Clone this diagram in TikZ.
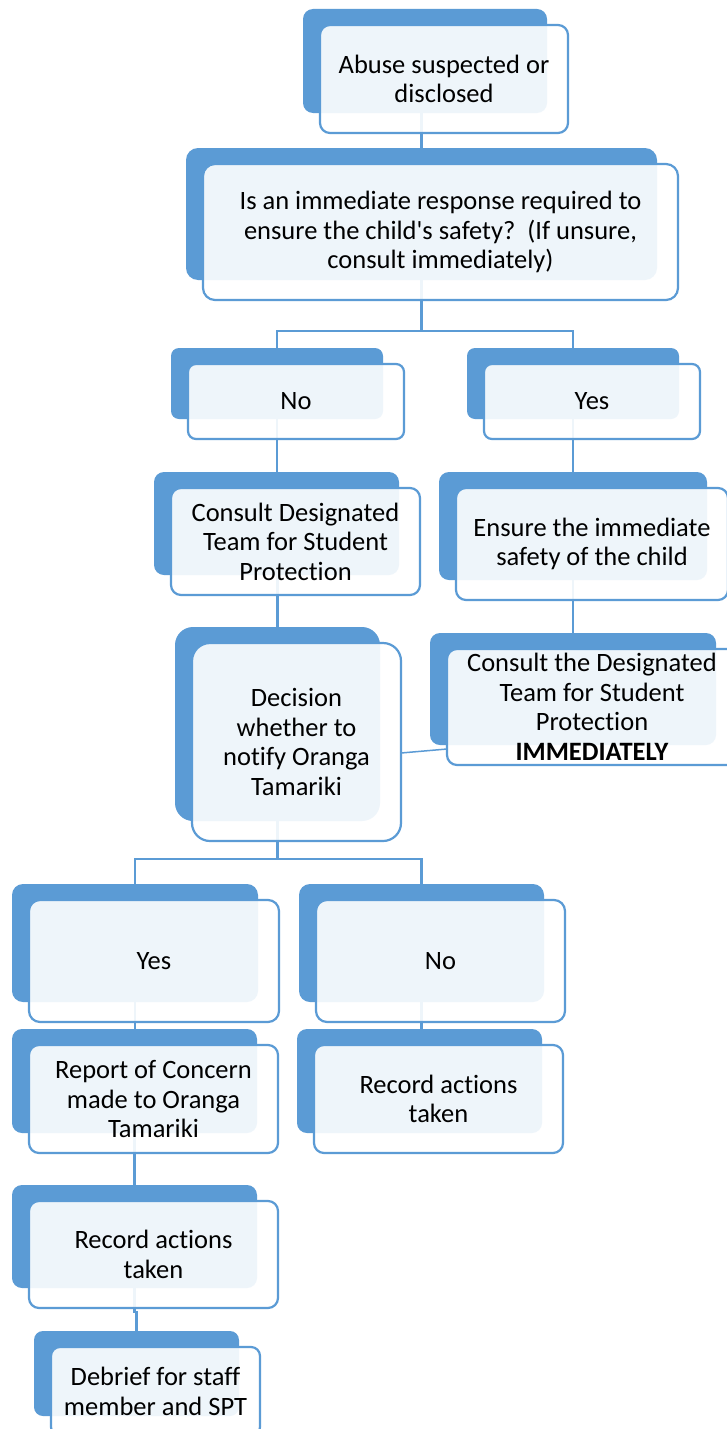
\documentclass[tikz,border=0pt]{standalone}
\usepackage{fontspec}
\setmainfont{Carlito}[Ligatures={TeX,NoCommon}]
\usetikzlibrary{calc}
\definecolor{sblue}{HTML}{5B9BD5}
\pgfdeclarelayer{bg}
\pgfsetlayers{bg,main}
\tikzset{
  backbox/.style={fill=sblue, draw=none, inner sep=0pt, outer sep=0pt},
  frontbox/.style={fill=white, fill opacity=0.9, text opacity=1, draw=sblue, line width=2.2pt,
    inner sep=0pt, outer sep=0pt, align=center, text=black,
    font=\fontsize{26.5}{29.5}\selectfont},
  conn/.style={draw=sblue, line width=2.2pt},
  thinconn/.style={draw=sblue, line width=1.5pt},
}
\newcommand\fbx[7]{%
  \node[backbox, rounded corners=#6, minimum width={(#4)-(#2)}, minimum height={(#5)-(#3)}]
    (#1b) at ({((#2)+(#4))/2},{((#3)+(#5))/2}) {};
  \node[frontbox, rounded corners=#6, minimum width={(#4)-(#2)+4}, minimum height={(#5)-(#3)+4}]
    (#1) at ({((#2)+(#4))/2+19},{((#3)+(#5))/2+18}) {#7};
}
\begin{document}
\begin{tikzpicture}[x=1pt,y=-1pt]
\useasboundingbox (0,0) rectangle (727,1429);
\clip (0,0) rectangle (727,1429);
\begin{pgfonlayer}{bg}
  \fill[white] (0,0) rectangle (727,1429);
\end{pgfonlayer}

\fbx{a}{303}{9}{547}{113}{10pt}{Abuse suspected or\\disclosed}
\fbx{q}{186}{148}{657}{280}{12pt}{Is an immediate response required to\\ensure the child\textquotesingle s safety?\ \ (If unsure,\\consult immediately)}
\fbx{noa}{171}{348}{383}{419}{8pt}{No}
\fbx{yesa}{467}{348}{679}{419}{8pt}{Yes}
\fbx{cons}{154}{472}{399}{575}{10pt}{Consult Designated\\Team for Student\\Protection}
\fbx{ens}{439}{472}{707}{580}{10pt}{Ensure the immediate\\safety of the child}
\fbx{imm}{430}{633}{716}{745}{10pt}{Consult the Designated\\Team for Student\\Protection\\\textbf{IMMEDIATELY}}
\fbx{dec}{175}{627}{380}{821}{18pt}{Decision\\whether to\\notify Oranga\\Tamariki}
\fbx{yesb}{12}{884}{258}{1002}{11pt}{Yes}
\fbx{nob}{299}{884}{544}{1002}{11pt}{No}
\fbx{rep}{12}{1029}{257}{1133}{10pt}{Report of Concern\\made to Oranga\\Tamariki}
\fbx{recl}{12}{1185}{257}{1288}{10pt}{Record actions\\taken}
\fbx{recr}{297}{1029}{542}{1133}{10pt}{Record actions\\taken}
\fbx{deb}{34}{1331}{239}{1416}{9pt}{Debrief for staff\\member and SPT}

\coordinate (j1) at (421.5,331);
\coordinate (j2) at (277.5,859);

\begin{pgfonlayer}{bg}
  \draw[conn] (ab.south -| qb.north) -- (qb.north);
  \draw[conn] (qb.south) -- (j1);
  \draw[conn] (noab.north) |- (j1) -| (yesab.north);
  \draw[conn] (noab.south) -- (noab.south |- consb.north);
  \draw[conn] (yesab.south) -- (ensb.north);
  \draw[conn] (ensb.south) -- (immb.north);
  \draw[conn] (consb.south -| decb.north) -- (decb.north);
  \draw[thinconn] ([yshift=-11pt]dec.east) -- ([yshift=-42pt]imm.west);
  \draw[conn] (decb.south) -- (j2);
  \draw[conn] (yesbb.north) |- (j2) -| (nobb.north);
  \draw[conn] (yesbb.south) -- (yesbb.south |- repb.north);
  \draw[conn] (repb.south) -- (reclb.north);
  \draw[conn] (reclb.south) -- ++(0,24) -| (debb.north);
  \draw[conn] (nobb.south) -- (nobb.south |- recrb.north);
\end{pgfonlayer}
\end{tikzpicture}
\end{document}
